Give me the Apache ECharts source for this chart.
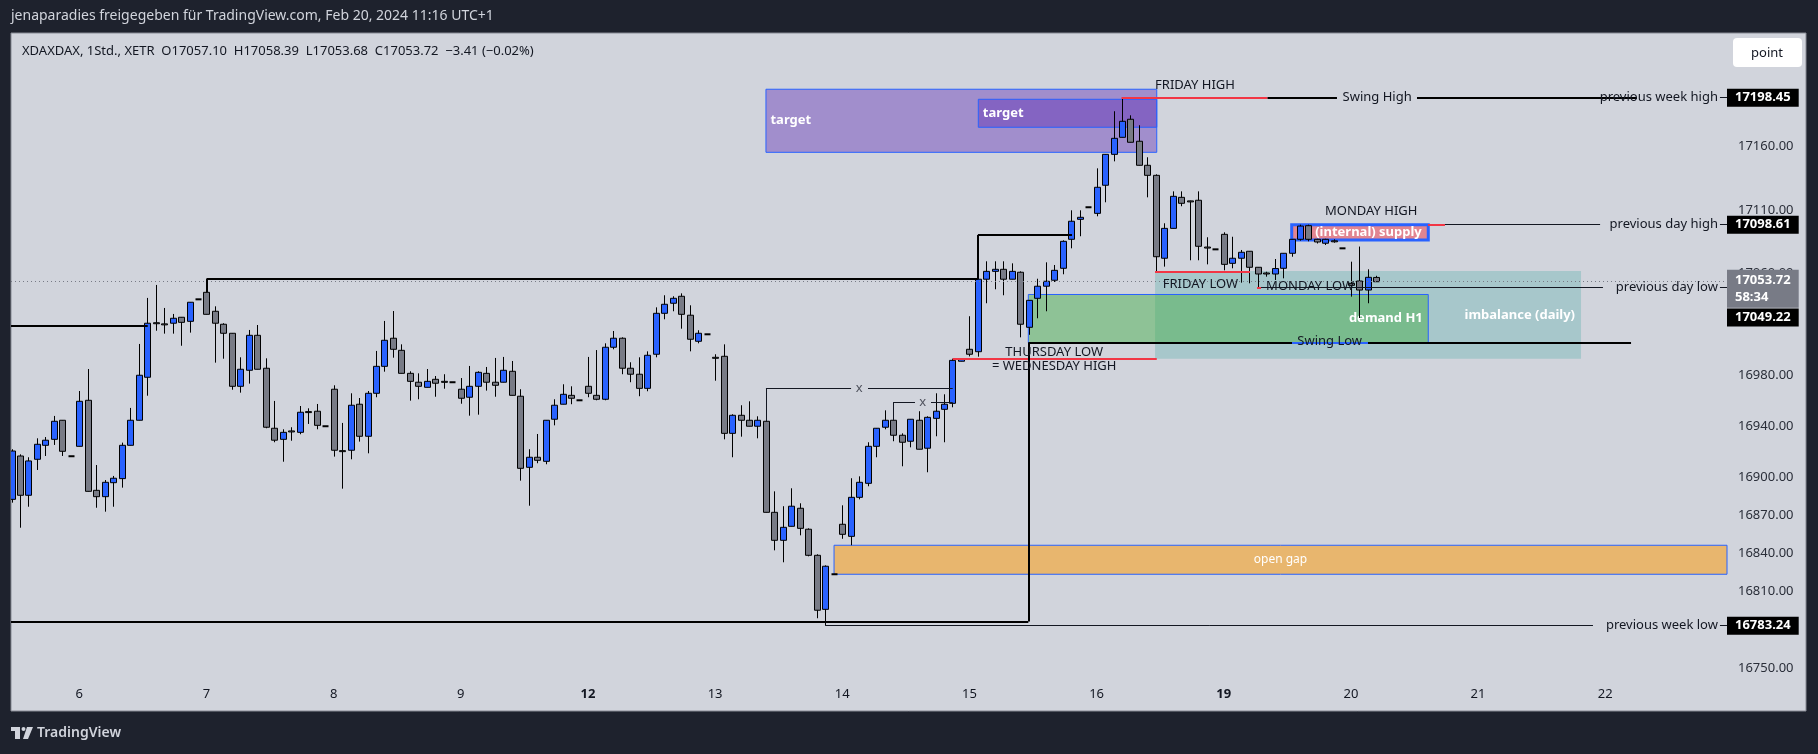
<!DOCTYPE html>
<html>
<head>
<meta charset="utf-8">
<script src="https://cdn.jsdelivr.net/npm/echarts@6/dist/echarts.min.js"></script>
<style>
  html, body { margin: 0; padding: 0; background: #1e222d; }
  #chart { width: 1818px; height: 754px; }
</style>
</head>
<body>
<div id="chart"></div>
<script>
// XDAXDAX 1h candles, Feb 5 (last 8 hours) .. Feb 20 11:00
const days = ['6', '7', '8', '9', '12', '13', '14', '15', '16', '19', '20', '21', '22'];
const boldDays = ['12', '19'];
const dayStart = [8, 23, 38, 53, 68, 83, 98, 113, 128, 143, 158, 173, 188]; // first candle of each day

const opens = [
  16882.6, 16916.7, 16885.8, 16914.1, 16925.1, 16929.8, 16944.8, 16916.5,
  16924.3, 16960.5, 16889.7, 16884.7, 16895.7, 16898.9, 16925.1, 16944.8, 16978.6, 17021.5, 17020.6, 17021.1, 17025.8, 17022.6, 17039.9,
  17045.4, 17030.5, 17020.3, 17013.2, 16971.5, 16984.1, 17011.6, 16985.7, 16938.5, 16929.8, 16936.4, 16935.3, 16951.6, 16951.9, 16940.1,
  16969.2, 16920.9, 16921.2, 16957.4, 16932.2, 16966.0, 16987.2, 17009.3, 16999.8, 16981.7, 16974.7, 16970.7, 16977.0, 16975.4, 16974.7,
  16969.2, 16962.9, 16971.5, 16981.7, 16974.7, 16974.7, 16983.3, 16963.7, 16907.8, 16915.7, 16912.5, 16945.6, 16957.4, 16964.4, 16960.5,
  16971.5, 16964.4, 16961.3, 17002.2, 17009.3, 16985.7, 16981.0, 16969.9, 16996.7, 17028.9, 17036.8, 17042.3, 17027.4, 17006.9, 17012.4,
  16994.3, 16995.1, 16934.5, 16948.7, 16944.8, 16940.1, 16944.0, 16872.4, 16850.4, 16861.4, 16875.6, 16859.1, 16838.6, 16796.1, 16823.7,
  16863.0, 16853.5, 16884.2, 16895.2, 16924.3, 16939.3, 16944.8, 16933.0, 16928.3, 16944.8, 16922.8, 16946.3, 16953.4, 16958.1, 16991.2,
  17000.6, 16998.7, 17055.7, 17061.9, 17063.5, 17055.7, 17061.2, 17017.9, 17040.7, 17050.2, 17054.9, 17064.3, 17087.1, 17102.8, 17112.3,
  17107.5, 17129.6, 17153.9, 17167.3, 17181.5, 17164.2, 17145.3, 17137.4, 17072.2, 17095.7, 17120.1, 17117.3, 17117.8, 17081.0, 17079.2,
  17091.0, 17068.2, 17072.2, 17077.7, 17065.1, 17060.6, 17059.8, 17064.3, 17076.1, 17087.1, 17097.8, 17087.1, 17084.0, 17085.9, 17080.0,
  17052.5, 17054.3, 17047.2, 17057.10
];
const highs = [
  16922.0, 16918.0, 16915.7, 16930.6, 16931.6, 16948.2, 16944.8, 16916.5,
  16967.8, 16985.1, 16909.6, 16897.8, 16901.0, 16927.2, 16954.5, 17004.8, 17041.0, 17051.2, 17033.1, 17028.4, 17025.8, 17037.6, 17039.9,
  17045.9, 17034.4, 17021.1, 17013.2, 16994.3, 17015.8, 17019.7, 16993.5, 16960.0, 16937.7, 16939.3, 16956.0, 16954.2, 16957.6, 16940.1,
  16972.3, 16942.7, 16966.0, 16962.3, 16967.8, 16999.3, 17022.9, 17030.7, 17004.5, 16983.3, 16981.7, 16985.1, 16979.6, 16981.0, 16974.7,
  16978.0, 16987.5, 16983.3, 16986.7, 16993.8, 16994.6, 16991.4, 16969.2, 16922.0, 16934.0, 16944.8, 16961.3, 16973.1, 16971.5, 16960.5,
  16994.6, 17000.0, 17005.3, 17015.0, 17010.0, 16990.4, 16994.3, 16999.0, 17033.6, 17043.1, 17042.3, 17044.6, 17035.2, 17015.6, 17012.4,
  16996.7, 17004.5, 16949.5, 16956.6, 16959.7, 16947.9, 16944.5, 16888.9, 16877.2, 16891.3, 16879.5, 16859.8, 16839.4, 16830.7, 16823.7,
  16877.9, 16899.2, 16900.7, 16927.5, 16938.5, 16952.6, 16944.8, 16934.5, 16945.6, 16951.9, 16947.9, 16966.0, 16965.2, 16993.2, 16993.2,
  17026.6, 17056.0, 17069.8, 17069.8, 17069.8, 17068.2, 17061.9, 17039.1, 17056.1, 17069.0, 17066.9, 17086.3, 17109.9, 17109.9, 17112.3,
  17142.9, 17153.9, 17187.8, 17198.45, 17184.6, 17176.8, 17151.6, 17138.2, 17099.7, 17124.8, 17124.8, 17117.5, 17124.8, 17088.7, 17079.2,
  17092.6, 17089.1, 17078.7, 17077.7, 17065.1, 17061.6, 17071.6, 17076.1, 17087.1, 17098.61, 17098.61, 17087.5, 17087.5, 17087.1, 17080.0,
  17069.5, 17081.4, 17063.5, 17058.39
];
const lows = [
  16880.0, 16860.3, 16876.8, 16905.7, 16916.7, 16925.4, 16916.7, 16916.5,
  16924.3, 16888.9, 16876.0, 16872.9, 16876.8, 16891.8, 16925.1, 16944.8, 16964.1, 17015.2, 17012.9, 17012.9, 17003.4, 17013.7, 17039.9,
  17028.1, 16990.1, 16993.2, 16968.8, 16966.5, 16973.6, 16984.9, 16938.5, 16927.5, 16912.2, 16928.7, 16933.8, 16941.9, 16937.7, 16940.1,
  16916.2, 16891.0, 16914.1, 16928.0, 16918.8, 16962.9, 16983.0, 16994.0, 16981.7, 16960.2, 16961.3, 16970.7, 16963.3, 16969.6, 16974.7,
  16957.8, 16948.4, 16949.2, 16968.1, 16963.3, 16974.7, 16964.4, 16897.3, 16877.6, 16911.0, 16910.2, 16940.8, 16957.4, 16957.4, 16960.5,
  16962.9, 16960.5, 16960.5, 17000.6, 16981.0, 16974.7, 16963.7, 16967.6, 16994.3, 17024.2, 17030.5, 17016.8, 16999.0, 17005.3, 17012.4,
  16975.9, 16929.8, 16915.7, 16931.9, 16940.1, 16930.6, 16872.4, 16842.5, 16833.1, 16861.4, 16854.3, 16837.8, 16789.1, 16783.24, 16823.7,
  16851.6, 16846.5, 16882.6, 16892.9, 16915.7, 16937.7, 16928.3, 16908.6, 16923.5, 16922.0, 16903.9, 16932.2, 16927.5, 16955.0, 16991.2,
  16995.0, 16994.8, 17036.8, 17047.8, 17043.1, 17055.7, 17010.0, 17012.0, 17025.0, 17030.5, 17053.5, 17059.6, 17080.0, 17089.5, 17112.3,
  17105.2, 17116.2, 17148.4, 17167.3, 17163.4, 17145.3, 17120.1, 17061.5, 17065.6, 17095.7, 17113.1, 17070.6, 17070.6, 17067.4, 17079.2,
  17062.7, 17064.3, 17053.0, 17052.5, 17049.22, 17057.7, 17055.1, 17056.4, 17073.4, 17086.0, 17085.5, 17083.8, 17082.6, 17084.4, 17080.0,
  17042.0, 17025.2, 17036.8, 17053.68
];
const closes = [
  16920.6, 16885.8, 16912.8, 16925.9, 16929.1, 16944.0, 16920.4, 16916.5,
  16959.7, 16888.9, 16884.7, 16896.0, 16899.2, 16925.1, 16944.8, 16980.2, 17021.1, 17021.1, 17020.3, 17025.0, 17021.8, 17037.6, 17039.9,
  17028.1, 17021.1, 17013.2, 16971.5, 16984.9, 17011.6, 16984.9, 16939.3, 16929.1, 16935.3, 16936.1, 16951.1, 16951.3, 16940.8, 16940.1,
  16921.2, 16920.6, 16956.6, 16932.2, 16966.0, 16987.2, 17007.7, 17000.6, 16981.7, 16975.4, 16971.5, 16975.4, 16973.9, 16975.1, 16974.7,
  16962.1, 16971.5, 16982.5, 16974.7, 16972.3, 16984.1, 16964.4, 16907.0, 16915.7, 16913.3, 16944.8, 16956.6, 16965.2, 16962.1, 16960.5,
  16966.0, 16961.3, 17002.2, 17009.3, 16985.7, 16981.0, 16969.9, 16995.9, 17028.9, 17036.0, 17040.7, 17028.1, 17008.5, 17013.2, 17012.4,
  16994.0, 16934.5, 16948.7, 16944.8, 16940.1, 16944.8, 16872.4, 16850.4, 16860.6, 16877.2, 16859.8, 16838.6, 16795.4, 16830.0, 16823.7,
  16855.1, 16884.2, 16896.0, 16924.3, 16938.5, 16944.8, 16933.0, 16927.5, 16945.6, 16922.0, 16947.1, 16951.9, 16957.4, 16991.9, 16993.0,
  16996.7, 17055.7, 17061.9, 17063.5, 17055.7, 17061.9, 17020.3, 17039.1, 17050.2, 17054.1, 17062.7, 17085.5, 17101.3, 17104.4, 17112.3,
  17128.0, 17153.9, 17166.5, 17179.9, 17163.4, 17145.3, 17137.4, 17073.4, 17095.7, 17120.9, 17115.4, 17117.0, 17081.6, 17080.8, 17079.2,
  17067.4, 17072.2, 17076.9, 17065.1, 17059.8, 17060.4, 17064.1, 17076.1, 17087.1, 17097.5, 17087.1, 17085.0, 17087.1, 17085.8, 17080.0,
  17050.9, 17047.2, 17057.2, 17053.72
];

// price scale
const yTicks = [16750, 16810, 16840, 16870, 16900, 16940, 16980, 17060, 17110, 17160];
const prevWeekHigh = 17198.45;
const prevDayHigh = 17098.61;
const lastPrice = 17053.72;
const prevDayLow = 17049.22;
const prevWeekLow = 16783.24;
const countdown = '58:34';

// zones: [fromCandle, topPrice, toCandle, bottomPrice]
const targetWide = [89.0, 17205.1, 135.1, 17155.5];
const targetNarrow = [114.05, 17197.2, 135.1, 17175.2];
const openGap = [97.03, 16846.5, 202.37, 16823.7];
const demandH1 = [119.95, 17043.7, 167.13, 17005.8];
const imbalanceDaily = [134.9, 17062.2, 185.15, 16993.2];
const internalSupply = [151.02, 17098.61, 167.13, 17086.6];

// other drawn levels
const thursdayLow = 16993.2;
const fridayLow = 17061.4;
const swingLow = 17005.8;
const bracketLow = 16786.5;

const xMin = -0.06, xMax = 202.37;
const yMin = 16740.54, yMax = 17249.33;
const font = '"Noto Sans", sans-serif';
const upColor = '#2962ff', downColor = '#787b86';

var candles = opens.map(function (o, i) { return [i, o, closes[i], lows[i], highs[i]]; });

function renderCandle(params, api) {
  var k = api.value(0), o = api.value(1), c = api.value(2), l = api.value(3), h = api.value(4);
  var top = api.coord([k, Math.max(o, c)]);
  var bot = api.coord([k, Math.min(o, c)]);
  var hi = api.coord([k, h]);
  var lo = api.coord([k, l]);
  var w = Math.round(api.size([1, 0])[0] * 0.72);
  var x = Math.round(top[0]) + 0.5;
  if (o === c && h === l) {
    return { type: 'line', shape: { x1: x - w / 2, y1: top[1], x2: x + w / 2, y2: top[1] },
             style: { stroke: '#000', lineWidth: 2 } };
  }
  return {
    type: 'group',
    children: [
      { type: 'line', shape: { x1: x, y1: hi[1], x2: x, y2: lo[1] }, style: { stroke: '#000', lineWidth: 1 } },
      { type: 'rect', shape: { x: x - w / 2, y: top[1], width: w, height: Math.max(bot[1] - top[1], 1) },
        style: { fill: c > o ? upColor : downColor, stroke: '#000', lineWidth: 1 } }
    ]
  };
}

function zone(z, fill, border, label) {
  return [
    { name: label ? label.text : '', coord: [z[0], z[1]],
      itemStyle: { color: fill, borderColor: border || 'transparent', borderWidth: border ? 1 : 0 },
      label: label ? Object.assign({ show: true, color: '#fff', fontFamily: font, fontSize: 13, fontWeight: 'bold' }, label) : { show: false } },
    { coord: [z[2], z[3]] }
  ];
}

function seg(x1, p1, x2, p2, style) {
  return [{ coord: [x1, p1], lineStyle: style }, { coord: [x2, p2] }];
}

function note(k, p, text, align, extra) {
  return { name: text, coord: [k, p],
           label: Object.assign({ show: true, formatter: '{b}', position: 'inside', align: align || 'center',
                                  verticalAlign: 'middle', color: '#131722', fontSize: 13, fontFamily: font }, extra || {}) };
}

function priceTag(p, text, bg, extra) {
  return { name: text, coord: [xMax, p],
           label: Object.assign({ show: true, formatter: '{b}', position: 'inside', align: 'left', verticalAlign: 'middle',
                                  color: '#fff', fontSize: 13, fontWeight: 'bold', fontFamily: font,
                                  backgroundColor: bg, padding: [3, 8, 2, 8] }, extra || {}) };
}

var thick = { color: '#000', width: 2, type: 'solid' };
var thin = { color: '#131722', width: 1, type: 'solid' };
var red = { color: '#f23645', width: 2, type: 'solid' };
var blueLine = { color: '#2962ff', width: 2, type: 'solid' };

var lines = [
  seg(xMin, lastPrice, xMax, lastPrice, { color: '#787b86', width: 1, type: [1, 3] }),
  seg(xMin, 17019.2, 16.07, 17019.2, thick),
  seg(23, 17045.7, 23, 17055.9, thick), seg(23, 17055.9, 114.0, 17055.9, thick),
  seg(114.0, 17055.9, 114.0, 17090.5, thick), seg(114.0, 17090.5, 125.1, 17090.5, thick),
  seg(89, 16944.2, 89, 16969.9, thin), seg(89, 16969.9, 99.04, 16969.9, thin), seg(101.04, 16969.9, 111.03, 16969.9, thin),
  seg(104, 16945.0, 104, 16958.9, thin), seg(104, 16958.9, 106.58, 16958.9, thin), seg(108.47, 16958.9, 111.03, 16958.9, thin),
  seg(111.03, thursdayLow, 135.1, thursdayLow, red),
  seg(130.94, prevWeekHigh, 148.17, prevWeekHigh, red),
  seg(148.17, prevWeekHigh, 156.36, prevWeekHigh, thick), seg(165.8, prevWeekHigh, 191.75, prevWeekHigh, thick),
  seg(201.54, prevWeekHigh, xMax, prevWeekHigh, thin),
  seg(134.9, fridayLow, 146.1, fridayLow, red),
  seg(146.93, prevDayLow, 147.4, prevDayLow, red), seg(147.4, prevDayLow, 187.74, prevDayLow, thin),
  seg(201.54, prevDayLow, xMax, prevDayLow, thin),
  seg(167.1, prevDayHigh, 169.1, prevDayHigh, red), seg(169.1, prevDayHigh, 187.4, prevDayHigh, thin),
  seg(201.54, prevDayHigh, xMax, prevDayHigh, thin),
  seg(119.95, swingLow, 151.06, swingLow, thick), seg(151.06, swingLow, 160.02, swingLow, blueLine),
  seg(160.02, swingLow, 191.05, swingLow, thick),
  seg(119.95, swingLow, 119.95, bracketLow, thick), seg(xMin, bracketLow, 119.95, bracketLow, thick),
  seg(96, prevWeekLow, 186.56, prevWeekLow, thin), seg(201.54, prevWeekLow, xMax, prevWeekLow, thin)
];

var zones = [
  zone(imbalanceDaily, 'rgba(0,150,136,0.2)', null, { text: 'imbalance (daily)', position: 'insideRight', distance: 6 }),
  zone(demandH1, 'rgba(76,175,80,0.5)', '#2962ff', { text: 'demand H1', position: 'insideRight', distance: 6 }),
  zone(targetWide, 'rgba(103,58,183,0.45)', '#2962ff', { text: 'target', position: 'insideLeft', distance: 5 }),
  zone(targetNarrow, 'rgba(103,58,183,0.5)', '#2962ff', { text: 'target', position: 'insideLeft', distance: 5 }),
  zone(openGap, 'rgba(255,152,0,0.5)', '#2962ff', { text: 'open gap', position: 'inside', fontWeight: 'normal', fontSize: 12 }),
  zone(internalSupply, 'rgba(242,54,69,0.5)', '#2962ff', { text: '(internal) supply', position: 'insideLeft', distance: 25 })
];
zones[5][0].itemStyle.borderWidth = 3;

var notes = [
  note(134.9, 17208.5, 'FRIDAY HIGH', 'left'),
  note(161.1, prevWeekHigh, 'Swing High'),
  note(160.4, 17109.4, 'MONDAY HIGH'),
  note(135.8, 17051.7, 'FRIDAY LOW', 'left'),
  note(148.0, 17050.0, 'MONDAY LOW', 'left'),
  note(123.0, 16998.5, 'THURSDAY LOW'),
  note(123.0, 16987.5, '= WEDNESDAY HIGH'),
  note(155.5, 17007.1, 'Swing Low'),
  note(100.0, 16969.9, 'x', 'center', { color: '#50535e' }),
  note(107.5, 16958.9, 'x', 'center', { color: '#50535e' }),
  note(201.3, prevWeekHigh, 'previous week high', 'right'),
  note(201.3, prevDayHigh, 'previous day high', 'right'),
  note(201.3, prevDayLow, 'previous day low', 'right'),
  note(201.3, prevWeekLow, 'previous week low', 'right'),
  priceTag(prevWeekHigh, prevWeekHigh.toFixed(2), '#000'),
  priceTag(prevDayHigh, prevDayHigh.toFixed(2), '#000'),
  priceTag(prevDayLow, prevDayLow.toFixed(2), '#000', { offset: [0, 30] }),
  priceTag(prevWeekLow, prevWeekLow.toFixed(2), '#000'),
  priceTag(lastPrice, lastPrice.toFixed(2) + '\n' + countdown, '#787b86',
           { verticalAlign: 'top', offset: [0, -12], lineHeight: 17, padding: [2, 8, 2, 8] })
];

var last = opens.length - 1;
var legendText = 'XDAXDAX, 1Std., XETR  O' + opens[last].toFixed(2) + '  H' + highs[last].toFixed(2) +
  '  L' + lows[last].toFixed(2) + '  C' + closes[last].toFixed(2) + '  \u22123.41 (\u22120.02%)';

var chart = echarts.init(document.getElementById('chart'));

const option = {
  backgroundColor: '#1e222d',
  animation: false,
  grid: { left: 11, right: 91, top: 33, bottom: 74 },
  graphic: [
    { type: 'rect', z: -10, shape: { x: 11, y: 33, width: 1795, height: 678 },
      style: { fill: '#d1d4dc', stroke: '#868993', lineWidth: 1 } },
    { type: 'text', x: 11, y: 16, style: { text: 'jenaparadies freigegeben f\u00fcr TradingView.com, Feb 20, 2024 11:16 UTC+1',
      fill: '#d1d4dc', font: '14px ' + font, verticalAlign: 'middle' } },
    { type: 'text', x: 22, y: 51, z: 50, style: { text: legendText, fill: '#131722', font: '13px ' + font, verticalAlign: 'middle' } },
    { type: 'rect', z: 50, shape: { x: 1733, y: 38, width: 69, height: 29, r: 4 }, style: { fill: '#fff' } },
    { type: 'text', z: 51, x: 1767, y: 53, style: { text: 'point', fill: '#131722', font: '13px ' + font,
      align: 'center', verticalAlign: 'middle' } },
    // TradingView logo
    { type: 'rect', shape: { x: 11, y: 727, width: 9, height: 4 }, style: { fill: '#d1d4dc' } },
    { type: 'rect', shape: { x: 15, y: 727, width: 5, height: 12 }, style: { fill: '#d1d4dc' } },
    { type: 'circle', shape: { cx: 23.5, cy: 729, r: 2 }, style: { fill: '#d1d4dc' } },
    { type: 'polygon', shape: { points: [[27, 727], [33, 727], [28, 739], [23, 739]] }, style: { fill: '#d1d4dc' } },
    { type: 'text', x: 37, y: 733, style: { text: 'TradingView', fill: '#d1d4dc', font: '600 14px ' + font, verticalAlign: 'middle' } }
  ],
  xAxis: {
    type: 'value', min: xMin, max: xMax,
    axisLine: { show: false }, axisTick: { show: false }, splitLine: { show: false },
    axisLabel: {
      customValues: dayStart, color: '#131722', fontSize: 13, fontFamily: font, margin: 8,
      formatter: function (v) {
        var d = days[dayStart.indexOf(v)];
        return boldDays.indexOf(d) >= 0 ? '{b|' + d + '}' : d;
      },
      rich: { b: { fontWeight: 'bold', fontSize: 13, color: '#131722', fontFamily: font } }
    }
  },
  yAxis: {
    type: 'value', position: 'right', min: yMin, max: yMax, scale: true,
    axisLine: { show: false }, axisTick: { show: false }, splitLine: { show: false },
    axisLabel: { customValues: yTicks, color: '#2a2e39', fontSize: 13, fontFamily: font, margin: 11,
      formatter: function (v) { return v.toFixed(2); } }
  },
  series: [
    { type: 'custom', name: 'XDAXDAX', renderItem: renderCandle, data: candles, clip: true, z: 2,
      encode: { x: 0, y: [1, 2, 3, 4] } },
    { type: 'line', data: [], z: 3, markArea: { silent: true, data: zones } },
    { type: 'line', data: [], z: 4, markLine: { silent: true, symbol: ['none', 'none'], label: { show: false }, data: lines } },
    { type: 'line', data: [], z: 5, markPoint: { silent: true, symbol: 'circle', symbolSize: 0, data: notes } }
  ]
};

chart.setOption(option);
window.addEventListener('resize', () => {
  chart.resize();
});
</script>
</body>
</html>
